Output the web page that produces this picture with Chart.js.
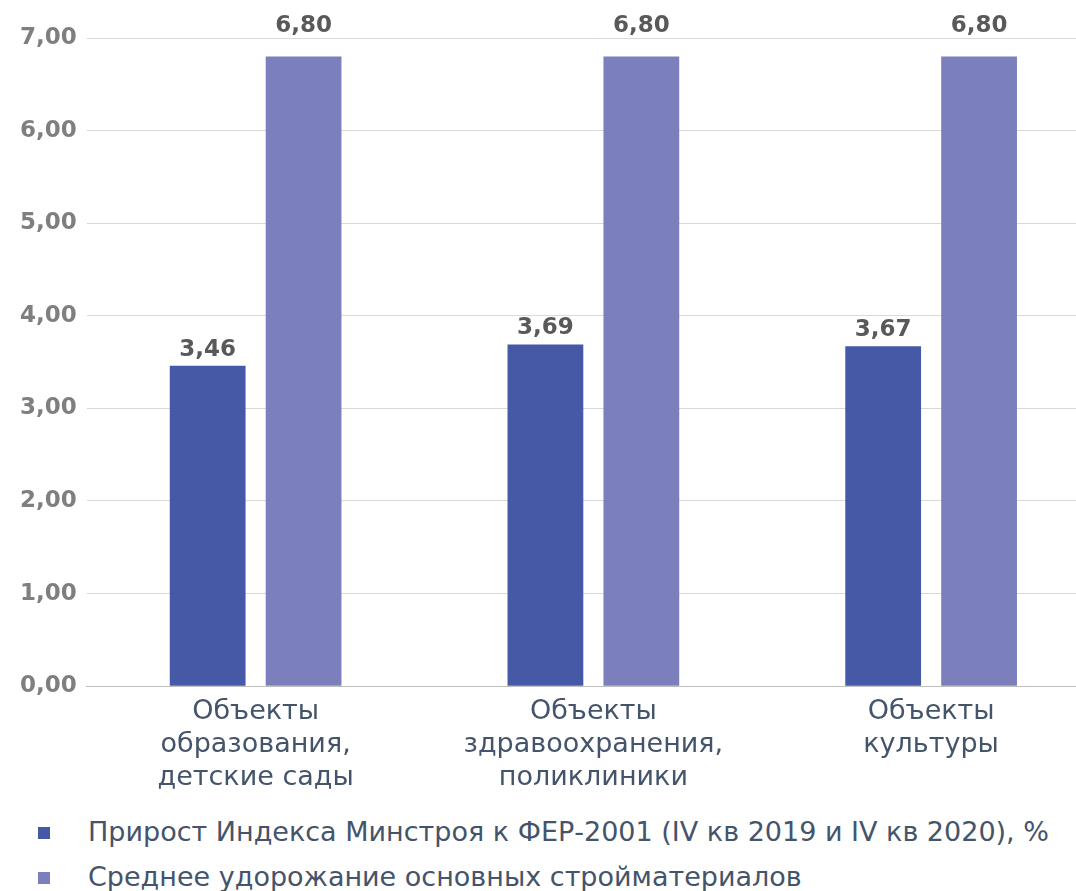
<!DOCTYPE html>
<html>
<head>
<meta charset="utf-8">
<script src="https://cdn.jsdelivr.net/npm/chart.js@4.4.0/dist/chart.umd.min.js"></script>
<style>
html, body { margin: 0; padding: 0; background: #fff; overflow: hidden; }
#wrap { position: relative; width: 1100px; height: 799px; }
#legend { position: absolute; left: 0; top: 812px; font-family: "DejaVu Sans", sans-serif; font-size: 27px; line-height: 32px; color: #44546A; }
.item { position: absolute; left: 0; height: 34px; white-space: nowrap; }
.box { position: absolute; left: 38px; width: 12px; height: 12px; top: 15px; }
.txt { position: absolute; left: 88px; top: 4px; }
</style>
</head>
<body>
<div id="wrap"><canvas id="chart"></canvas></div>
<div id="legend"></div>
<script>
const categories = [
    ['Объекты', 'образования,', 'детские сады'],
    ['Объекты', 'здравоохранения,', 'поликлиники'],
    ['Объекты', 'культуры']
];
const seriesNames = [
    'Прирост Индекса Минстроя к ФЕР-2001 (IV кв 2019 и IV кв 2020), %',
    'Среднее удорожание основных стройматериалов'
];
const indexGrowth = [3.46, 3.69, 3.67];
const materialsGrowth = [6.80, 6.80, 6.80];
const colors = ['#4559A7', '#7B7FBC'];

const fmt = v => v.toFixed(2).replace('.', ',');
const FONT = '"DejaVu Sans", sans-serif';

// подписи значений над столбцами
const valueLabels = {
    id: 'valueLabels',
    afterDatasetsDraw(chart) {
        const ctx = chart.ctx;
        const top = chart.chartArea.top;
        ctx.save();
        ctx.font = 'bold 23px ' + FONT;
        ctx.fillStyle = '#595959';
        ctx.textAlign = 'center';
        ctx.textBaseline = 'alphabetic';
        chart.data.datasets.forEach((ds, i) => {
            chart.getDatasetMeta(i).data.forEach((bar, j) => {
                let y = bar.y - 10;
                if (y - 18 < top + 2) y = top - 6;
                ctx.fillText(fmt(ds.data[j]), bar.x, y);
            });
        });
        ctx.restore();
    }
};

const ctx = document.getElementById('chart');
const chart = new Chart(ctx, {
    type: 'bar',
    data: {
        labels: categories,
        datasets: [{
            label: seriesNames[0],
            data: indexGrowth,
            backgroundColor: colors[0],
            categoryPercentage: 0.568,
            barPercentage: 0.79
        },
        {
            label: seriesNames[1],
            data: materialsGrowth,
            backgroundColor: colors[1],
            categoryPercentage: 0.568,
            barPercentage: 0.79
        }]
    },
    options: {
        responsive: true,
        maintainAspectRatio: false,
        animation: false,
        layout: { padding: { top: 38, left: 10, right: 0, bottom: 4 } },
        plugins: {
            legend: { display: false },
            tooltip: { enabled: false }
        },
        scales: {
            x: {
                grid: { display: false },
                border: { color: '#BFBFBF', width: 1 },
                ticks: {
                    color: '#44546A',
                    padding: 1,
                    maxRotation: 0,
                    font: { family: FONT, size: 27, lineHeight: 1.22 }
                }
            },
            y: {
                min: 0,
                max: 7,
                grid: { color: '#D9D9D9', drawTicks: false },
                border: { display: false },
                ticks: {
                    stepSize: 1,
                    padding: 10,
                    color: '#7F7F7F',
                    font: { family: FONT, size: 23, weight: 'bold' },
                    callback: v => fmt(v)
                }
            }
        }
    },
    plugins: [valueLabels]
});

// легенда
const legend = document.getElementById('legend');
seriesNames.forEach((name, i) => {
    const item = document.createElement('div');
    item.className = 'item';
    item.style.top = (i * 45) + 'px';
    item.innerHTML = '<div class="box" style="background:' + colors[i] + '"></div><div class="txt">' + name + '</div>';
    legend.appendChild(item);
});
</script>
</body>
</html>
